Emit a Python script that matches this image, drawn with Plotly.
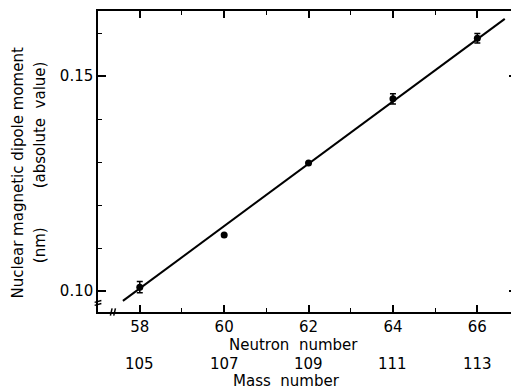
import plotly.graph_objects as go

# Data
neutron_number = [58, 60, 62, 64, 66]
mass_number = [105, 107, 109, 111, 113]
moment = [0.1009, 0.1130, 0.1298, 0.1447, 0.1588]
moment_err = [0.0013, 0.0, 0.0, 0.0012, 0.0011]

fit_x = [57.6, 66.65]
fit_y = [0.0977, 0.1633]

x_major = [58, 60, 62, 64, 66]
x_minor = [57, 59, 61, 63, 65, 67]
y_major = [0.10, 0.15]
y_major_text = ["0.10", "0.15"]

FONT = "DejaVu Sans"

fig = go.Figure()
fig.add_trace(go.Scatter(
    x=fit_x, y=fit_y, mode="lines",
    line=dict(color="black", width=2), hoverinfo="skip", showlegend=False))
fig.add_trace(go.Scatter(
    x=neutron_number, y=moment, mode="markers",
    marker=dict(color="black", size=7),
    error_y=dict(type="data", array=moment_err, visible=True,
                 color="black", thickness=1.5, width=3),
    showlegend=False))

fig.update_xaxes(
    range=[57.01, 66.94], showgrid=False, zeroline=False,
    showline=True, linecolor="black", linewidth=1.5, mirror="allticks",
    ticks="inside", ticklen=7, tickwidth=1.5, tickcolor="black",
    tickvals=x_major, ticktext=[str(v) for v in x_major],
    tickfont=dict(family=FONT, size=15, color="black"),
    minor=dict(tickvals=x_minor, ticks="inside", ticklen=4,
               tickwidth=1.2, tickcolor="black"),
)
fig.update_yaxes(
    range=[0.09512, 0.16512], showgrid=False, zeroline=False,
    showline=True, linecolor="black", linewidth=1.5, mirror="allticks",
    ticks="inside", ticklen=8, tickwidth=1.5, tickcolor="black",
    tickvals=y_major, ticktext=y_major_text,
    tickfont=dict(family=FONT, size=15, color="black"),
    minor=dict(dtick=0.01, tick0=0.10, ticks="inside", ticklen=4,
               tickwidth=1.2, tickcolor="black"),
)

annotations = []
for n, m in zip(neutron_number, mass_number):
    annotations.append(dict(x=n, y=-0.1728, xref="x", yref="paper",
                            text=str(m), showarrow=False,
                            font=dict(family=FONT, size=15, color="black"),
                            xanchor="center", yanchor="middle"))
annotations += [
    dict(x=0.466, y=-0.108, xref="paper", yref="paper", text="Neutron  number",
         showarrow=False, font=dict(family=FONT, size=15, color="black"),
         xanchor="center", yanchor="middle"),
    dict(x=0.449, y=-0.229, xref="paper", yref="paper", text="Mass  number",
         showarrow=False, font=dict(family=FONT, size=15, color="black"),
         xanchor="center", yanchor="middle"),
    dict(x=-0.19, y=0.4618, xref="paper", yref="paper",
         text="Nuclear magnetic dipole moment", textangle=-90,
         showarrow=False, font=dict(family=FONT, size=15, color="black"),
         xanchor="center", yanchor="middle"),
    dict(x=-0.138, y=0.621, xref="paper", yref="paper",
         text="(absolute  value)", textangle=-90,
         showarrow=False, font=dict(family=FONT, size=15, color="black"),
         xanchor="center", yanchor="middle"),
    dict(x=-0.138, y=0.2226, xref="paper", yref="paper",
         text="(nm)", textangle=-90,
         showarrow=False, font=dict(family=FONT, size=15, color="black"),
         xanchor="center", yanchor="middle"),
]

# axis break marks
shapes = []
for dy in (-0.005, 0.005):
    shapes.append(dict(type="line", xref="paper", yref="paper",
                       x0=-0.008, x1=0.008, y0=0.03 + dy - 0.003, y1=0.03 + dy + 0.003,
                       line=dict(color="black", width=1.5)))
for dx in (-0.004, 0.004):
    shapes.append(dict(type="line", xref="paper", yref="paper",
                       x0=0.0356 + dx - 0.002, x1=0.0356 + dx + 0.002, y0=-0.012, y1=0.012,
                       line=dict(color="black", width=1.5)))

# page body has an 8px margin, so the figure is 8px smaller than the window
fig.update_layout(
    width=511, height=381,
    margin=dict(l=90, r=0, t=3, b=77),
    paper_bgcolor="white", plot_bgcolor="white",
    annotations=annotations, shapes=shapes,
    font=dict(family=FONT, color="black"),
)

fig.write_html("out.html")
